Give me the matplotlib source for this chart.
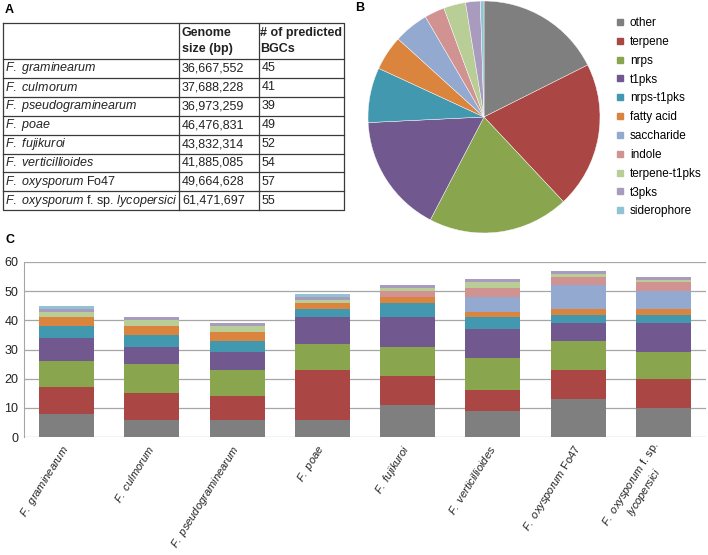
import numpy as np
import matplotlib.pyplot as plt
from matplotlib.lines import Line2D

plt.rcParams['font.family'] = ['Liberation Sans', 'DejaVu Sans']
plt.rcParams['mathtext.fontset'] = 'custom'
plt.rcParams['mathtext.rm'] = 'Liberation Sans'
plt.rcParams['mathtext.it'] = 'Liberation Sans:italic'
plt.rcParams['mathtext.bf'] = 'Liberation Sans:bold'

# 表格数据
species_tab = [r'$\mathit{F.\ graminearum}$', r'$\mathit{F.\ culmorum}$',
               r'$\mathit{F.\ pseudograminearum}$', r'$\mathit{F.\ poae}$',
               r'$\mathit{F.\ fujikuroi}$', r'$\mathit{F.\ verticillioides}$',
               r'$\mathit{F.\ oxysporum}$ Fo47',
               r'$\mathit{F.\ oxysporum}$ f. sp. $\mathit{lycopersici}$']
genome_size = ['36,667,552', '37,688,228', '36,973,259', '46,476,831',
               '43,832,314', '41,885,085', '49,664,628', '61,471,697']
n_bgc = [45, 41, 39, 49, 52, 54, 57, 55]

# 柱状图标签
species_bar = species_tab[:7] + [r'$\mathit{F.\ oxysporum}$ f. sp.' + '\n' + r'$\mathit{lycopersici}$']

classes = ['other', 'terpene', 'nrps', 't1pks', 'nrps-t1pks', 'fatty acid',
           'saccharide', 'indole', 'terpene-t1pks', 't3pks', 'siderophore']
colors = ['#7f7f7f', '#aa4644', '#89a54e', '#71588f', '#4198af', '#db843d',
          '#93a9cf', '#d19392', '#b9cd96', '#a99bbd', '#92c3d4']

other = [8, 6, 6, 6, 11, 9, 13, 10]
terpene = [9, 9, 8, 17, 10, 7, 10, 10]
nrps = [9, 10, 9, 9, 10, 11, 10, 9]
t1pks = [8, 6, 6, 9, 10, 10, 6, 10]
nrps_t1pks = [4, 4, 4, 3, 5, 4, 3, 3]
fatty_acid = [3, 3, 3, 2, 2, 2, 2, 2]
saccharide = [0, 0, 0, 0, 0, 5, 8, 6]
indole = [0, 0, 0, 0, 2, 3, 3, 3]
terpene_t1pks = [2, 2, 2, 1, 1, 2, 1, 1]
t3pks = [1, 1, 1, 1, 1, 1, 1, 1]
siderophore = [1, 0, 0, 1, 0, 0, 0, 0]
series = [other, terpene, nrps, t1pks, nrps_t1pks, fatty_acid,
          saccharide, indole, terpene_t1pks, t3pks, siderophore]

W, H = 708, 555
fig = plt.figure(figsize=(W / 100, H / 100), dpi=100)

# ---- A: 表格 ----
axt = fig.add_axes([0, 0, 1, 1])
axt.set_xlim(0, W)
axt.set_ylim(H, 0)
axt.axis('off')
x0, x1, x2, x3 = 3, 179, 259, 344
y_top, y_head = 23, 59
row_h = 18.9
y_bot = y_head + row_h * len(species_tab)
lc = '#3a3a3a'
axt.plot([x0, x3, x3, x0, x0], [y_top, y_top, y_bot, y_bot, y_top], color=lc, lw=0.9)
for xv in (x1, x2):
    axt.plot([xv, xv], [y_top, y_bot], color=lc, lw=0.9)
for i in range(len(species_tab)):
    yv = y_head + row_h * i
    axt.plot([x0, x3], [yv, yv], color=lc, lw=0.9)
    yc = yv + row_h / 2
    axt.text(x0 + 2, yc, species_tab[i], fontsize=9, va='center', color='#222')
    axt.text(x1 + 3, yc, genome_size[i], fontsize=9, va='center', color='#222')
    axt.text(x2 + 3, yc, str(n_bgc[i]), fontsize=9, va='center', color='#222')
axt.text(x1 + 3, (y_top + y_head) / 2, 'Genome\nsize (bp)', fontsize=9,
         fontweight='bold', va='center', linespacing=1.4, color='#222')
axt.text(x2 + 1, (y_top + y_head) / 2, '# of predicted\nBGCs', fontsize=9,
         fontweight='bold', va='center', linespacing=1.4, color='#222')
axt.text(5, 10, 'A', fontsize=9, fontweight='bold', va='center')
axt.text(355, 8, 'B', fontsize=9, fontweight='bold', va='center')
axt.text(5, 240, 'C', fontsize=9, fontweight='bold', va='center')

# ---- B: 饼图 ----
totals = [sum(s) for s in series]
cx, cy, r = 484, 117, 116
axp = fig.add_axes([(cx - r) / W, 1 - (cy + r) / H, 2 * r / W, 2 * r / H])
axp.pie(totals, colors=colors, startangle=90, counterclock=False,
        wedgeprops=dict(linewidth=0.3, edgecolor='white'))
axp.set_xlim(-1, 1)
axp.set_ylim(-1, 1)
handles = [Line2D([], [], marker='s', ls='', color=c, markersize=5) for c in colors]
fig.legend(handles, classes, loc='upper left', bbox_to_anchor=(614 / W, 1 - 17 / H),
           frameon=False, fontsize=8.5, labelspacing=0.58, handlelength=1.0,
           handletextpad=0.35, borderpad=0, borderaxespad=0)

# ---- C: 堆积柱状图 ----
axb = fig.add_axes([24 / W, 1 - 437 / H, 682 / W, 175 / H])
xpos = np.arange(len(species_bar))
bottom = np.zeros(len(species_bar))
for s, c in zip(series, colors):
    axb.bar(xpos, s, bottom=bottom, width=0.645, color=c, linewidth=0)
    bottom += np.array(s)
axb.set_xlim(-0.5, len(species_bar) - 0.5)
axb.set_ylim(0, 60)
axb.set_yticks(range(0, 61, 10))
axb.yaxis.grid(True, color='#a6a6a6', lw=0.9)
axb.set_axisbelow(True)
for sp in ('top', 'right', 'bottom'):
    axb.spines[sp].set_visible(False)
axb.spines['left'].set_color('#a6a6a6')
axb.tick_params(axis='both', length=0, labelsize=9, colors='#222')
axb.tick_params(axis='y', pad=4)
axb.tick_params(axis='x', pad=7)
axb.set_xticks(xpos)
axb.set_xticklabels(species_bar, rotation=58, ha='right', va='center',
                    rotation_mode='anchor', fontsize=8, multialignment='center')

fig.savefig('out.png', dpi=100)
